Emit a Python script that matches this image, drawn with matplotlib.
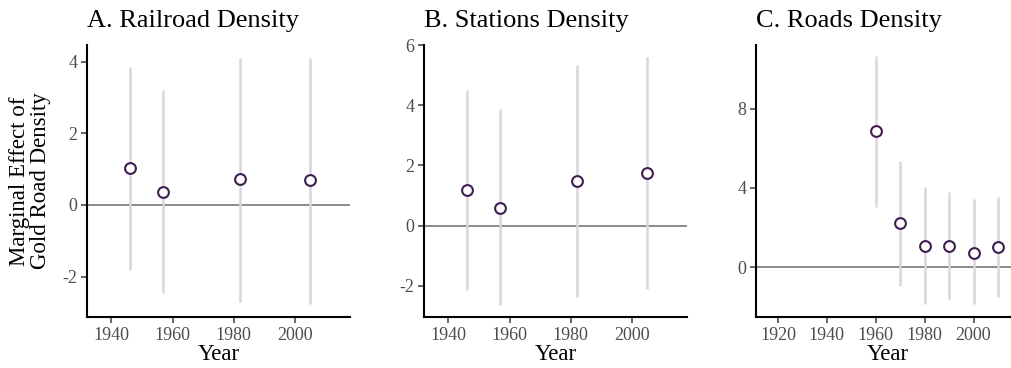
import matplotlib
matplotlib.use("Agg")
import matplotlib.pyplot as plt

plt.rcParams['font.family'] = ['Liberation Serif', 'DejaVu Serif']
plt.rcParams['axes.unicode_minus'] = False

# ---- data ----
rail_years = [1946, 1957, 1982, 2005]
rail_est = [1.02, 0.37, 0.72, 0.70]
rail_lo = [-1.83, -2.45, -2.70, -2.76]
rail_hi = [3.86, 3.21, 4.12, 4.12]

stat_years = [1946, 1957, 1982, 2005]
stat_est = [1.17, 0.59, 1.48, 1.76]
stat_lo = [-2.14, -2.63, -2.37, -2.11]
stat_hi = [4.50, 3.86, 5.33, 5.61]

road_years = [1960, 1970, 1980, 1990, 2000, 2010]
road_est = [6.85, 2.24, 1.08, 1.08, 0.74, 1.03]
road_lo = [3.05, -0.96, -1.84, -1.59, -1.87, -1.47]
road_hi = [10.65, 5.38, 4.07, 3.81, 3.43, 3.53]

titles = ["A. Railroad Density", "B. Stations Density", "C. Roads Density"]

W, H = 1011, 368
fig = plt.figure(figsize=(W / 100, H / 100), dpi=100)

panels = [
    (87, rail_years, rail_est, rail_lo, rail_hi, (1932, 2018), (-3.13, 4.47),
     [1940, 1960, 1980, 2000], [-2, 0, 2, 4]),
    (424, stat_years, stat_est, stat_lo, stat_hi, (1932, 2018), (-3.03, 6.0),
     [1940, 1960, 1980, 2000], [-2, 0, 2, 4, 6]),
    (756, road_years, road_est, road_lo, road_hi, (1911, 2018.6), (-2.5, 11.2),
     [1920, 1940, 1960, 1980, 2000], [0, 4, 8]),
]

bar_col = "#dbd4e0"
pt_col = "#3f1d4f"
tick_col = "#4d4d4d"

for i, (x0, yrs, est, lo, hi, xl, yl, xt, yt) in enumerate(panels):
    ax = fig.add_axes([x0 / W, 1 - 317 / H, 263 / W, (317 - 45) / H])
    ax.axhline(0, color="#8a8a8a", lw=1.4, zorder=1)
    ax.vlines(yrs, lo, hi, color=bar_col, lw=1.8, zorder=2)
    ax.scatter(yrs, est, s=60, facecolor="white", edgecolor=pt_col,
               linewidth=1.5, zorder=3)
    ax.set_xlim(*xl)
    ax.set_ylim(*yl)
    ax.set_xticks(xt)
    ax.set_yticks(yt)
    for s in ["top", "right"]:
        ax.spines[s].set_visible(False)
    for s in ["left", "bottom"]:
        ax.spines[s].set_linewidth(1.5)
        ax.spines[s].set_color("black")
    ax.tick_params(axis="both", colors=tick_col, labelsize=13, length=4,
                   width=1.2, pad=3)
    ax.set_title(titles[i], loc="left", fontsize=19, pad=13)
    ax.set_xlabel("Year", fontsize=16.5, labelpad=0)
    if i == 0:
        ax.set_ylabel("Marginal Effect of\nGold Road Density", fontsize=16.5,
                      linespacing=1.0, labelpad=8)

fig.savefig("out.png", dpi=100)
